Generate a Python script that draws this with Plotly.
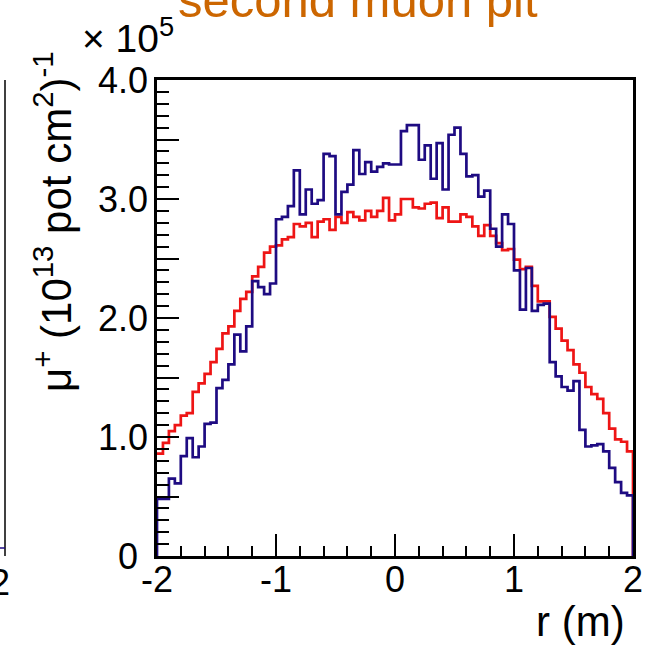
import numpy as np
import plotly.graph_objects as go

# binning: 80 bins of 0.05 m between -2 and 2
r_min, r_max, n_bins = -2.0, 2.0, 80

# muon flux per bin (units of 1e5 per 1e13 pot cm^2)
blue_vals = [
    0.48, 0.48, 0.65, 0.61, 0.84, 0.99, 0.83, 0.92, 1.11, 1.12,
    1.41, 1.48, 1.61, 1.86, 1.72, 1.93, 2.31, 2.26, 2.20, 2.29,
    2.83, 2.85, 2.94, 3.24, 2.87, 3.08, 2.96, 2.99, 3.38, 3.36,
    2.87, 3.06, 3.12, 3.41, 3.21, 3.31, 3.23, 3.27, 3.30, 3.29,
    3.29, 3.57, 3.62, 3.62, 3.33, 3.45, 3.17, 3.47, 3.08, 3.54,
    3.60, 3.38, 3.19, 3.20, 3.02, 3.07, 2.75, 2.60, 2.87, 2.79,
    2.40, 2.07, 2.42, 2.06, 2.11, 2.12, 1.63, 1.51, 1.42, 1.39,
    1.47, 1.06, 0.92, 0.93, 0.94, 0.88, 0.74, 0.62, 0.53, 0.51,
]
red_vals = [
    0.86, 0.95, 1.05, 1.10, 1.18, 1.20, 1.38, 1.45, 1.53, 1.63,
    1.74, 1.87, 1.93, 2.06, 2.16, 2.22, 2.35, 2.43, 2.55, 2.60,
    2.61, 2.66, 2.68, 2.79, 2.77, 2.80, 2.68, 2.81, 2.83, 2.74,
    2.85, 2.80, 2.89, 2.85, 2.82, 2.90, 2.85, 2.90, 3.01, 2.82,
    2.87, 3.00, 3.00, 2.93, 2.92, 2.96, 2.97, 2.84, 2.93, 2.81,
    2.81, 2.87, 2.85, 2.77, 2.69, 2.78, 2.69, 2.63, 2.57, 2.58,
    2.49, 2.41, 2.43, 2.27, 2.14, 2.14, 2.01, 1.91, 1.81, 1.73,
    1.61, 1.54, 1.42, 1.36, 1.32, 1.20, 1.07, 0.98, 0.96, 0.88,
]

x_tickvals = [-2, -1, 0, 1, 2]
x_ticktext = ['-2', '-1', '0', '1', '2']
y_tickvals = [0, 0.5, 1, 1.5, 2, 2.5, 3, 3.5, 4]
y_ticktext = ['0\u00a0', '', '1.0', '', '2.0', '', '3.0', '', '4.0']

FONT = 'Liberation Sans'
W, H = 646, 650
L, R, T, B = 157, 13, 80, 94
PW, PH = W - L - R, H - T - B


def px(x):
    return (x - L) / PW


def py(y):
    return (H - B - y) / PH


edges = np.linspace(r_min, r_max, n_bins + 1)

fig = go.Figure()

# red histogram (open on the left, closed on the right)
fig.add_trace(go.Scatter(
    x=list(edges[:-1]) + [edges[-1], edges[-1]],
    y=red_vals + [red_vals[-1], 0],
    mode='lines', line=dict(color='#ee1515', width=2.7, shape='hv'),
    showlegend=False, hoverinfo='skip'
))

# blue histogram (closed on both sides)
fig.add_trace(go.Scatter(
    x=[edges[0]] + list(edges[:-1]) + [edges[-1], edges[-1]],
    y=[0] + blue_vals + [blue_vals[-1], 0],
    mode='lines', line=dict(color='#1e0b82', width=2.7, shape='hv'),
    showlegend=False, hoverinfo='skip'
))

axis_common = dict(
    showline=True, mirror=True, linecolor='black', linewidth=2.5,
    showgrid=False, zeroline=False, ticks='inside', tickwidth=2,
    tickcolor='black', tickmode='array', automargin=False,
    tickfont=dict(family=FONT, size=36, color='black'),
)

fig.update_xaxes(
    range=[r_min, r_max], tickvals=x_tickvals, ticktext=x_ticktext,
    ticklen=22, ticklabelstandoff=-10,
    minor=dict(dtick=0.2, tick0=-2, ticks='inside', ticklen=10,
               tickwidth=2, tickcolor='black'),
    **axis_common
)
fig.update_yaxes(
    range=[0, 4], tickvals=y_tickvals, ticktext=y_ticktext,
    ticklen=22, ticklabelstandoff=-1,
    minor=dict(dtick=0.1, tick0=0, ticks='inside', ticklen=12,
               tickwidth=2, tickcolor='black'),
    **axis_common
)

annotations = [
    # title, cropped at the top of the picture
    dict(text='second muon pit', x=px(358), y=py(29), xanchor='center',
         yanchor='bottom', font=dict(family=FONT, size=49, color='#cc6600')),
    dict(text='× 10<sup>5</sup>', x=px(128), y=py(62), xanchor='center',
         yanchor='bottom', font=dict(family=FONT, size=39, color='black')),
    dict(text='μ<sup>+</sup> (10<sup>13</sup> pot cm<sup>2</sup>)<sup>-1</sup>',
         x=px(53), y=py(222), textangle=-90, xanchor='center', yanchor='middle',
         font=dict(family=FONT, size=42, color='black')),
    dict(text='r (m)', x=px(627), y=py(621), xanchor='right', yanchor='middle',
         font=dict(family=FONT, size=42, color='black')),
    # tick label of the neighbouring panel
    dict(text='2', x=px(0), y=py(582), xanchor='center', yanchor='middle',
         font=dict(family=FONT, size=36, color='black')),
]
for a in annotations:
    a.update(xref='paper', yref='paper', showarrow=False)

shapes = [
    # edge of the neighbouring panel
    dict(type='line', x0=px(5), x1=px(5), y0=py(80), y1=py(556),
         line=dict(color='black', width=1.5)),
    dict(type='line', x0=px(0), x1=px(5), y0=py(548), y1=py(548),
         line=dict(color='#1e0b82', width=1.5)),
]
for s in shapes:
    s.update(xref='paper', yref='paper')

fig.update_layout(
    width=W, height=H,
    margin=dict(l=L, r=R, t=T, b=B),
    plot_bgcolor='white', paper_bgcolor='white',
    annotations=annotations, shapes=shapes,
    showlegend=False,
)

fig.write_html('out.html', config={'displayModeBar': False},
               post_script="document.body.style.margin='0';")
